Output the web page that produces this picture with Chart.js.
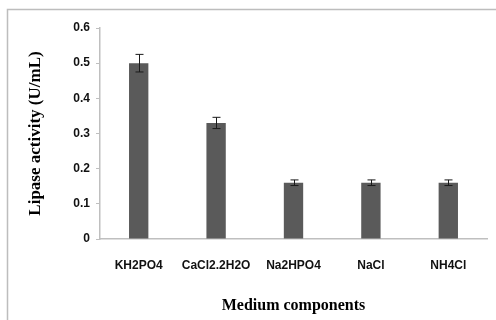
<!DOCTYPE html>
<html><head><meta charset="utf-8">
<script src="https://cdn.jsdelivr.net/npm/chart.js@4"></script>
<style>html,body{margin:0;padding:0;background:#fff}#wrap{width:496px;height:320px}</style>
</head><body><div id="wrap"><canvas id="c" width="496" height="320"></canvas></div>
<script>
const categories = ["KH2PO4", "CaCl2.2H2O", "Na2HPO4", "NaCl", "NH4Cl"];
const activity = [0.50, 0.33, 0.16, 0.16, 0.16];
const errors = [0.025, 0.016, 0.008, 0.008, 0.008];
const yTicks = [0, 0.1, 0.2, 0.3, 0.4, 0.5, 0.6];

const errorBars = {
  id: 'errorBars',
  afterDatasetsDraw(chart) {
    const ctx = chart.ctx, y = chart.scales.y;
    const meta = chart.getDatasetMeta(0);
    ctx.save();
    ctx.strokeStyle = '#1a1a1a'; ctx.lineWidth = 1;
    meta.data.forEach((bar, i) => {
      const x = Math.round(bar.x) + 0.5;
      const top = y.getPixelForValue(activity[i] + errors[i]);
      const bot = y.getPixelForValue(activity[i] - errors[i]);
      ctx.beginPath();
      ctx.moveTo(x, top); ctx.lineTo(x, bot);
      ctx.moveTo(x - 4, top); ctx.lineTo(x + 4, top);
      ctx.moveTo(x - 4, bot); ctx.lineTo(x + 4, bot);
      ctx.stroke();
    });
    ctx.restore();
  }
};
const frame = {
  id: 'frame',
  beforeDraw(chart) {
    const ctx = chart.ctx;
    ctx.save();
    ctx.fillStyle = '#fff'; ctx.fillRect(0, 0, chart.width, chart.height);
    ctx.strokeStyle = '#bdbdbd'; ctx.lineWidth = 1.5;
    ctx.beginPath();
    ctx.moveTo(7.5, 320); ctx.lineTo(7.5, 9.5); ctx.lineTo(496, 9.5);
    ctx.stroke();
    ctx.restore();
  }
};

new Chart(document.getElementById('c'), {
  type: 'bar',
  data: { labels: categories, datasets: [{ data: activity, backgroundColor: '#5a5a5a',
    categoryPercentage: 1, barPercentage: 0.25 }] },
  options: {
    responsive: false, animation: false, devicePixelRatio: 1,
    layout: { padding: { left: 25, right: 9, top: 28, bottom: 5 } },
    plugins: { legend: { display: false }, tooltip: { enabled: false } },
    scales: {
      x: {
        grid: { display: false, drawTicks: false },
        border: { color: '#bfbfbf', width: 1.5 },
        ticks: { color: '#111', font: { family: 'Liberation Sans', size: 12, weight: 'bold' }, padding: 19, maxRotation: 0 },
        title: { display: true, text: 'Medium components', color: '#000',
          font: { family: 'Liberation Serif', size: 16, weight: 'bold' }, padding: { top: 4, bottom: 0 } },
        afterFit(s) { s.height = 76; }
      },
      y: {
        min: 0, max: 0.6,
        afterBuildTicks(s) { s.ticks = yTicks.map(v => ({ value: v })); },
        grid: { display: true, drawOnChartArea: false, drawTicks: true, tickLength: 4, color: '#bfbfbf' },
        border: { color: '#bfbfbf', width: 1.5 },
        ticks: { color: '#111', font: { family: 'Liberation Sans', size: 12, weight: 'bold' }, padding: 6,
          callback: v => String(v) },
        title: { display: true, text: 'Lipase activity (U/mL)', color: '#000',
          font: { family: 'Liberation Serif', size: 17, weight: 'bold' }, padding: 0 },
        afterFit(s) { s.width = 75; }
      }
    }
  },
  plugins: [frame, errorBars]
});
</script></body></html>
